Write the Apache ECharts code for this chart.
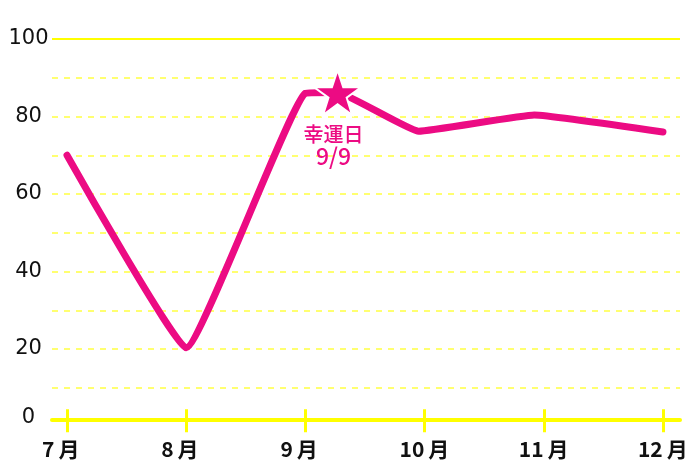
<!DOCTYPE html>
<html>
<head>
<meta charset="utf-8">
<script src="https://cdn.jsdelivr.net/npm/echarts@6/dist/echarts.min.js"></script>
<style>
html,body{margin:0;padding:0;background:#fff;}
#c{width:700px;height:467px;}
</style>
</head>
<body>
<div id="c"></div>
<script>
// ---- data ----
const months = ['7月', '8月', '9月', '10月', '11月', '12月'];
const monthPos = [0, 1, 2, 3, 4, 5];
const lineX = [0, 1, 2, 2.27, 2.95, 3.92, 5];
const lineY = [70, 20.3, 86, 86.2, 76.2, 80.4, 76];
const luckyIndex = 3;
const luckyTitle = '幸運日';
const luckyDate = '9/9';
const yLabelValues = [0, 20, 40, 60, 80, 100];

const PINK = '#ec0b83';
const YELLOW = '#ffff00';
const DASH = '#ffff70';
const STAR = 'path://M50,0 L61.8,35.1 L98.8,35.1 L68.9,56.7 L80.2,91.9 L50,70.2 L19.8,91.9 L31.1,56.7 L1.2,35.1 L38.2,35.1 Z';

const chart = echarts.init(document.getElementById('c'), null, {renderer: 'canvas'});

const seriesData = lineX.map((x, i) => {
  if (i === luckyIndex) {
    return {
      value: [x, lineY[i]],
      symbol: STAR,
      symbolSize: [47, 45],
      itemStyle: {color: PINK, borderColor: '#fff', borderWidth: 2},
      label: {
        show: true,
        position: 'bottom',
        distance: 7,
        offset: [-4, 0],
        formatter: '{a|' + luckyTitle + '}\n{b|' + luckyDate + '}',
        color: PINK,
        align: 'center',
        rich: {
          a: {color: PINK, fontSize: 20, lineHeight: 22, fontFamily: 'Noto Sans CJK JP', fontWeight: 500},
          b: {color: PINK, fontSize: 23, lineHeight: 22, fontFamily: 'Noto Sans CJK JP', fontWeight: 500}
        }
      }
    };
  }
  return {value: [x, lineY[i]], symbol: 'none'};
});

const splitColors = ['rgba(0,0,0,0)'];
for (let i = 0; i < 10; i++) splitColors.push(DASH);

const option = {
  backgroundColor: '#fff',
  animation: false,
  grid: {left: 52, right: 20, top: 39, bottom: 40.5, containLabel: false},
  xAxis: [{
    type: 'value',
    min: -0.126,
    max: 5.143,
    position: 'bottom',
    offset: -7.2,
    axisLine: {show: true, onZero: false, lineStyle: {color: YELLOW, width: 4}},
    axisTick: {show: true, customValues: monthPos, inside: false, length: 13, lineStyle: {color: YELLOW, width: 3}},
    splitLine: {show: false},
    axisLabel: {
      customValues: monthPos,
      margin: 19,
      width: 50,
      overflow: 'truncate',
      ellipsis: '',
      align: 'center',
      formatter: function (v) {
        const m = months[Math.round(v)];
        return '{d|' + m.slice(0, -1) + '}{m|' + m.slice(-1) + '}';
      },
      rich: {
        d: {align: 'left', fontSize: 21, fontWeight: 'bold', fontFamily: 'Noto Sans CJK JP', color: '#111'},
        m: {align: 'left', fontSize: 21, fontWeight: 'bold', fontFamily: 'Noto Sans CJK JP', color: '#111', padding: [0, 0, 0, 4]}
      }
    }
  }, {
    type: 'value',
    min: -0.126,
    max: 5.143,
    position: 'bottom',
    offset: -7.2,
    axisLine: {show: false, onZero: false},
    axisTick: {show: true, customValues: monthPos, inside: true, length: 10, lineStyle: {color: YELLOW, width: 3}},
    axisLabel: {show: false},
    splitLine: {show: false}
  }],
  yAxis: {
    type: 'value',
    min: 0,
    max: 100,
    interval: 10,
    axisLine: {show: false},
    axisTick: {show: false},
    axisLabel: {
      margin: 23.5,
      align: 'center',
      color: '#111',
      fontSize: 21,
      fontFamily: 'DejaVu Sans',
      formatter: function (v) {
        if (yLabelValues.indexOf(v) < 0) return '';
        if (v === 0) return '{z|0}';
        return String(v);
      },
      rich: {
        z: {fontSize: 21, fontFamily: 'DejaVu Sans', color: '#111', padding: [0, 0, 17, 0]}
      }
    },
    splitLine: {show: true, lineStyle: {color: splitColors, type: [6, 6], width: 2}}
  },
  series: [{
    type: 'line',
    xAxisIndex: 0,
    data: seriesData,
    symbol: 'none',
    smooth: 0.1,
    lineStyle: {color: PINK, width: 7, cap: 'round', join: 'round'},
    itemStyle: {color: PINK},
    z: 3,
    markLine: {
      silent: true,
      symbol: ['none', 'none'],
      label: {show: false},
      lineStyle: {color: YELLOW, type: 'solid', width: 2},
      data: [{yAxis: 100}]
    }
  }]
};
chart.setOption(option);
</script>
</body>
</html>
